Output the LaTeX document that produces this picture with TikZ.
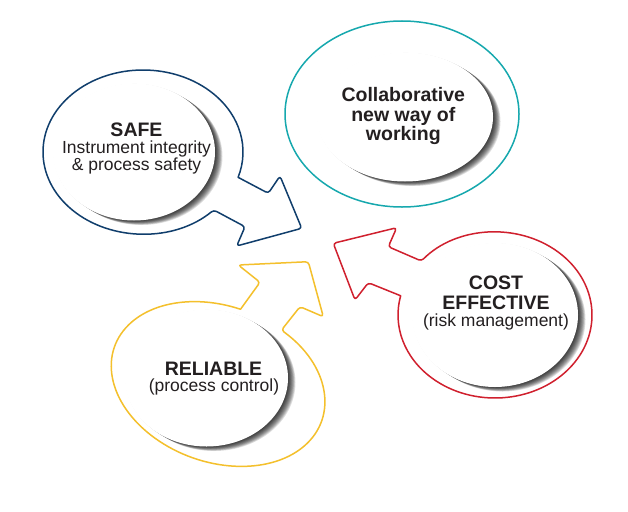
\documentclass[tikz,border=0pt]{standalone}
\usepackage{fontspec}
\setmainfont{Liberation Sans}
\usetikzlibrary{shapes.geometric}
\definecolor{navyc}{RGB}{16,62,108}
\definecolor{tealc}{RGB}{22,168,174}
\definecolor{redc}{RGB}{208,32,46}
\definecolor{yelc}{RGB}{244,192,44}
\definecolor{txtc}{RGB}{35,31,32}
\newcommand{\bubshadow}[4]{%
  \foreach \k in {1,...,10}{%
    \fill[black, opacity=0.12] (#1+0.75*\k, #2+0.45*\k) ellipse[x radius=#3, y radius=#4];
  }}
\begin{document}
\begin{tikzpicture}[x=1pt,y=1pt,yscale=-1,
  outline/.style={line width=1.5pt, line join=round},
  bubble/.style={ellipse, fill=white, draw=none, inner sep=0pt},
  boldtxt/.style={font=\bfseries\fontsize{19.5}{20}\selectfont, text=txtc, anchor=base, inner sep=0pt},
  regtxt/.style={font=\fontsize{17.5}{18}\selectfont, text=txtc, anchor=base, inner sep=0pt}]
\useasboundingbox[fill=white] (0,0) rectangle (628,511);

% SAFE
\coordinate (sa1) at (268.3,193.3);
\coordinate (sa2) at (280,176);
\coordinate (sa3) at (301.7,228.3);
\coordinate (sa4) at (236.7,246);
\coordinate (sa5) at (245,226.7);
\draw[outline, navyc] (143,152) ++(45:100 and 82) arc[start angle=45, end angle=378, x radius=100, y radius=82]
  [rounded corners=3pt] -- (sa1) -- (sa2) -- (sa3) -- (sa4) -- (sa5) -- cycle;

% Collaborative
\node[ellipse, draw=tealc, line width=1.5pt, minimum width=234pt, minimum height=186pt] (collabRing) at (402,114) {};

% COST
\coordinate (ca1) at (368.3,282.7);
\coordinate (ca2) at (355,300);
\coordinate (ca3) at (333.3,243.3);
\coordinate (ca4) at (396.7,227.7);
\coordinate (ca5) at (388.3,246.7);
\draw[outline, redc] (495,315) ++(220.6:97 and 83) arc[start angle=220.6, end angle=553.4, x radius=97, y radius=83]
  [rounded corners=3pt] -- (ca1) -- (ca2) -- (ca3) -- (ca4) -- (ca5) -- cycle;

% RELIABLE
\coordinate (ra1) at (260,282.3);
\coordinate (ra2) at (238.3,265);
\coordinate (ra3) at (308.3,261.7);
\coordinate (ra4) at (323.3,316.7);
\coordinate (ra5) at (300,306.7);
\begin{scope}[shift={(218,384)}, rotate=20]
\draw[outline, yelc] (-68:110 and 78) arc[start angle=-68, end angle=267.7, x radius=110, y radius=78]
  [rounded corners=3pt] -- (ra1) -- (ra2) -- (ra3) -- (ra4) -- (ra5) -- cycle;
\end{scope}

% shadows
\bubshadow{134}{152}{81}{68.5}
\bubshadow{405}{117}{88}{64.5}
\bubshadow{495}{315}{83}{72}
\bubshadow{206.5}{378}{81.5}{68.5}

% white bubbles
\node[bubble, minimum width=162pt, minimum height=137pt] (safeBg) at (134,152) {};
\node[bubble, minimum width=176pt, minimum height=129pt] (collabBg) at (405,117) {};
\node[bubble, minimum width=166pt, minimum height=144pt] (costBg) at (495,315) {};
\node[bubble, minimum width=163pt, minimum height=137pt] (relBg) at (206.5,378) {};

% texts
\node[boldtxt] (safeT) at (136.5,136) {SAFE};
\node[regtxt] (safeA) at (136.5,153.3) {Instrument integrity};
\node[regtxt] (safeB) at (136.5,170.7) {\& process safety};

\node[boldtxt] (colA) at (403.3,101.7) {Collaborative};
\node[boldtxt] (colB) at (403.3,121) {new way of};
\node[boldtxt] (colC) at (403.3,140) {working};

\node[boldtxt] (costA) at (496,289) {COST};
\node[boldtxt] (costB) at (496,309.3) {EFFECTIVE};
\node[regtxt] (costC) at (496,326.7) {(risk management)};

\node[boldtxt] (relA) at (213.5,375) {RELIABLE};
\node[regtxt] (relB) at (214,391.7) {(process control)};
\end{tikzpicture}
\end{document}
